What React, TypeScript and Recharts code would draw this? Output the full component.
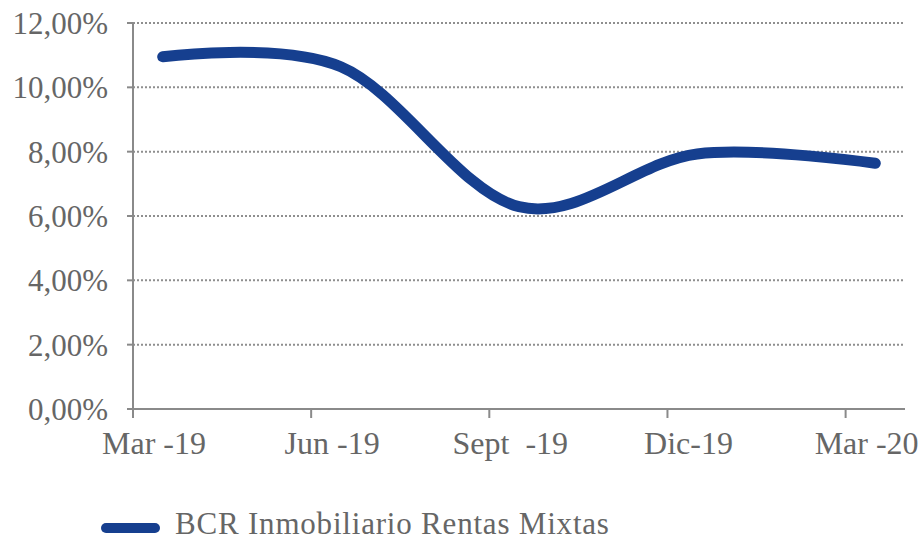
import React from 'react';
import { LineChart, Line, XAxis, YAxis, CartesianGrid, Legend } from 'recharts';

const categories = ['Mar -19', 'Jun -19', 'Sept\u00A0 -19', 'Dic-19', 'Mar -20'];
const monthIndex = [0, 3, 6, 9, 12];
const values = [10.95, 10.64, 6.29, 7.93, 7.64];
const yTicks = [0, 2, 4, 6, 8, 10, 12];
const seriesName = 'BCR Inmobiliario Rentas Mixtas';

const data = categories.map((c, i) => ({ label: c, m: monthIndex[i], v: values[i] }));
const xTickPositions = monthIndex.map((m) => m - 0.5);

const FONT = '"Liberation Serif", "DejaVu Serif", serif';
const TEXT = '#666666';
const AXIS = '#8a8a8a';
const LINE = '#163f8f';

// Catmull-Rom style smoothing (similar to spreadsheet "smoothed line")
const smoothCurve = (ctx: any) => {
  let pts: number[][] = [];
  return {
    areaStart() {},
    areaEnd() {},
    lineStart() {
      pts = [];
    },
    point(x: number, y: number) {
      pts.push([+x, +y]);
    },
    lineEnd() {
      if (!pts.length) return;
      ctx.moveTo(pts[0][0], pts[0][1]);
      for (let i = 0; i < pts.length - 1; i++) {
        const p1 = pts[i];
        const p2 = pts[i + 1];
        const p0 = pts[i - 1] || p2;
        const p3 = pts[i + 2] || p1;
        ctx.bezierCurveTo(
          p1[0] + (p2[0] - p0[0]) / 6,
          p1[1] + (p2[1] - p0[1]) / 6,
          p2[0] - (p3[0] - p1[0]) / 6,
          p2[1] - (p3[1] - p1[1]) / 6,
          p2[0],
          p2[1]
        );
      }
    },
  };
};

const XTick = (props: any) => {
  const { x, y, index } = props;
  return (
    <text x={x + 21} y={y} dy="0.71em" textAnchor="middle" fill={TEXT} fontSize={32} fontFamily={FONT}>
      {categories[index]}
    </text>
  );
};

const LegendContent = (props: any) => {
  const item = (props.payload && props.payload[0]) || { value: seriesName, color: LINE };
  return (
    <div style={{ width: 905, height: 60, position: 'relative' }}>
      <svg width={905} height={60} style={{ display: 'block', overflow: 'visible' }}>
        <line x1={106} y1={47} x2={155} y2={47} stroke={item.color} strokeWidth={10} strokeLinecap="round" />
        <text x={175} y={53} fill={TEXT} fontSize={31} letterSpacing={0.8} fontFamily={FONT}>
          {item.value}
        </text>
      </svg>
    </div>
  );
};

export default function App() {
  return (
    <div style={{ position: 'absolute', left: 0, top: 0, width: 920, height: 541, background: '#fff' }}>
      <LineChart width={920} height={541} data={data} margin={{ top: 23, right: 15, left: 0, bottom: 0 }}>
        <CartesianGrid vertical={false} stroke="#8f8f8f" strokeWidth={2} strokeDasharray="2 2" />
        <XAxis
          type="number"
          dataKey="m"
          domain={[-0.5, 12.5]}
          ticks={xTickPositions}
          interval={0}
          height={72}
          tickSize={9}
          tickMargin={13}
          axisLine={{ stroke: AXIS, strokeWidth: 2 }}
          tickLine={{ stroke: AXIS, strokeWidth: 2 }}
          tick={<XTick />}
        />
        <YAxis
          domain={[0, 12]}
          ticks={yTicks}
          interval={0}
          width={133}
          tickSize={6}
          tickMargin={19}
          axisLine={{ stroke: AXIS, strokeWidth: 2 }}
          tickLine={{ stroke: AXIS, strokeWidth: 2 }}
          tick={{ fill: TEXT, fontSize: 31, fontFamily: FONT }}
          tickFormatter={(v: number) => v.toFixed(2).replace('.', ',') + '%'}
        />
        <Legend verticalAlign="bottom" align="left" content={<LegendContent />} />
        <Line
          type={smoothCurve as any}
          dataKey="v"
          name={seriesName}
          stroke={LINE}
          strokeWidth={11}
          strokeLinecap="round"
          dot={false}
          activeDot={false}
          isAnimationActive={false}
        />
      </LineChart>
    </div>
  );
}
